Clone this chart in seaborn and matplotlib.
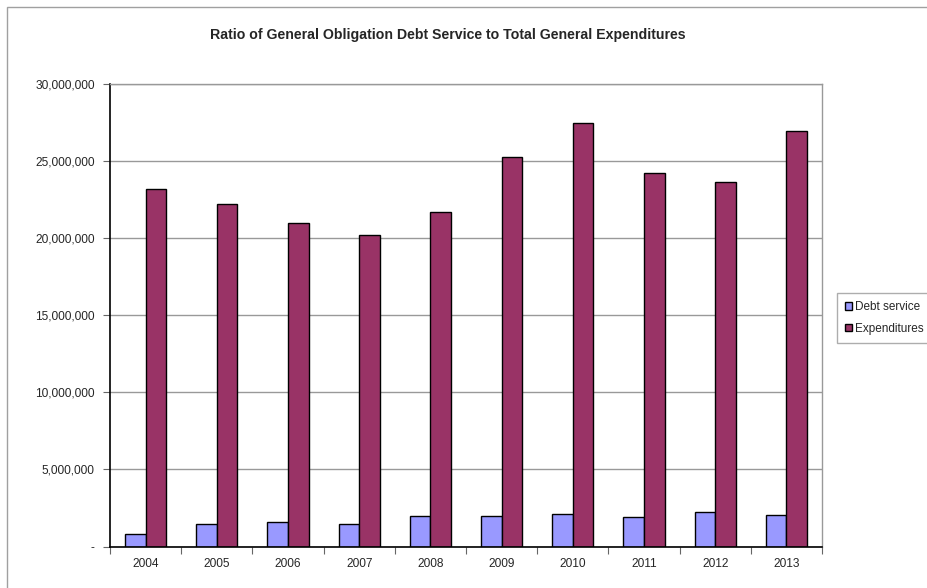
import matplotlib
matplotlib.use("Agg")
import matplotlib.pyplot as plt
from matplotlib.patches import Rectangle
from matplotlib.ticker import FuncFormatter, FixedLocator
import seaborn as sns
import pandas as pd

years = ["2004", "2005", "2006", "2007", "2008", "2009", "2010", "2011", "2012", "2013"]
debt_service = [820000, 1470000, 1620000, 1470000, 1950000, 2010000, 2100000, 1930000, 2250000, 2060000]
expenditures = [23200000, 22190000, 21000000, 20200000, 21670000, 25240000, 27500000, 24200000, 23640000, 26950000]
series_names = ["Debt service", "Expenditures"]
series_colors = ["#9999FF", "#993366"]
title = "Ratio of General Obligation Debt Service to Total General Expenditures"

df = pd.DataFrame({
    "Year": years * 2,
    "Value": debt_service + expenditures,
    "Series": [series_names[0]] * len(years) + [series_names[1]] * len(years),
})

sns.set_style("white")
plt.rcParams["font.family"] = ["Liberation Sans", "DejaVu Sans"]

fig = plt.figure(figsize=(9.27, 5.88), dpi=100)
ax = fig.add_axes([110 / 927, 1 - 546.5 / 588, (822 - 110) / 927, (546.5 - 84) / 588])

# outer chart frame (only top and left edges fall inside the image)
fig.patches.append(Rectangle((7 / 927, -0.1), 1.2, 1 - 7 / 588 + 0.1,
                             transform=fig.transFigure, fill=False,
                             edgecolor="#a0a0a0", linewidth=1.0, zorder=0))

sns.barplot(data=df, x="Year", y="Value", hue="Series", order=years,
            hue_order=series_names, palette=series_colors, width=0.58,
            edgecolor="black", linewidth=1.0, saturation=1, ax=ax, legend=True)

ax.set_ylim(0, 30000000)
ax.set_xlim(-0.5, len(years) - 0.5)
ax.set_yticks(range(0, 30000001, 5000000))
ax.yaxis.set_major_formatter(FuncFormatter(lambda v, p: "-" if v == 0 else f"{int(v):,}"))
ax.grid(axis="y", color="#999999", linewidth=1.0)
ax.set_axisbelow(True)
ax.set_xlabel("")
ax.set_ylabel("")

for side in ["top", "right"]:
    ax.spines[side].set_visible(True)
    ax.spines[side].set_color("#999999")
    ax.spines[side].set_linewidth(1.0)
for side in ["left", "bottom"]:
    ax.spines[side].set_color("black")
    ax.spines[side].set_linewidth(1.2)

ax.tick_params(axis="y", which="major", direction="out", length=5, width=0.8,
               color="#666666", labelsize=8.6, pad=6, left=True)
ax.tick_params(axis="x", which="major", length=0, labelsize=8.6, pad=8)
ax.xaxis.set_minor_locator(FixedLocator([i - 0.5 for i in range(len(years) + 1)]))
ax.tick_params(axis="x", which="minor", direction="out", length=5, width=0.8,
               color="#666666", bottom=True)

fig.text(448 / 927, 1 - 35 / 588, title, ha="center", va="center",
         fontsize=10.2, fontweight="bold")

handles, labels = ax.get_legend_handles_labels()
if ax.legend_:
    ax.legend_.remove()
leg = fig.legend(handles, labels, loc="upper left",
                 bbox_to_anchor=(837 / 927, 1 - 293 / 588),
                 frameon=True, fancybox=False, fontsize=8.5, handlelength=0.6,
                 handleheight=0.6, handletextpad=0.2, borderpad=0.7,
                 labelspacing=0.8, borderaxespad=0)
leg.get_frame().set_edgecolor("#999999")
leg.get_frame().set_linewidth(1.0)

fig.savefig("out.png", dpi=100)
